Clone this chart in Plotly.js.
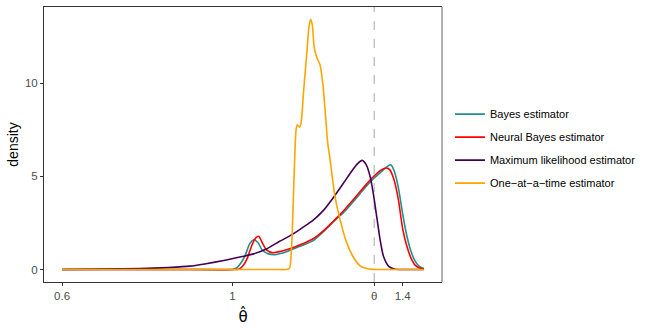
<!DOCTYPE html>
<html>
<head>
<meta charset="utf-8">
<script src="https://cdn.plot.ly/plotly-3.0.1.min.js"></script>
<style>
  html, body { margin: 0; padding: 0; background: #fff; }
  #chart { width: 664px; height: 332px; }
</style>
</head>
<body>
<div id="chart"></div>
<script>
// true parameter value (dashed line)
let theta = 1.3333;

let bayesX = [0.6, 0.9, 1.0, 1.01, 1.02, 1.03, 1.04, 1.05, 1.06, 1.07, 1.085, 1.1, 1.12, 1.14, 1.165, 1.19, 1.215, 1.24, 1.265, 1.29, 1.31, 1.33, 1.35, 1.362, 1.372, 1.38, 1.39, 1.4, 1.41, 1.42, 1.43, 1.44, 1.45];
let bayesY = [0, 0, 0, 0.08, 0.35, 0.75, 1.35, 1.6, 1.45, 1.05, 0.84, 0.8, 0.9, 1.08, 1.3, 1.55, 2.05, 2.62, 3.15, 3.8, 4.35, 4.85, 5.25, 5.5, 5.62, 5.3, 4.4, 3.0, 1.8, 0.95, 0.42, 0.15, 0.05];

let neuralX = [0.6, 0.9, 1.0, 1.015, 1.025, 1.035, 1.045, 1.055, 1.062, 1.07, 1.08, 1.095, 1.115, 1.14, 1.165, 1.19, 1.215, 1.24, 1.265, 1.29, 1.31, 1.33, 1.35, 1.362, 1.37, 1.38, 1.39, 1.4, 1.41, 1.42, 1.43, 1.44, 1.45];
let neuralY = [0, 0, 0, 0.02, 0.2, 0.6, 1.25, 1.7, 1.78, 1.45, 1.05, 0.9, 0.98, 1.15, 1.38, 1.65, 2.1, 2.65, 3.25, 3.9, 4.45, 4.95, 5.35, 5.45, 5.35, 4.8, 3.75, 2.2, 1.25, 0.6, 0.22, 0.08, 0.03];

let mleX = [0.6, 0.7, 0.783, 0.85, 0.9, 0.935, 0.983, 1.026, 1.05, 1.08, 1.11, 1.14, 1.165, 1.19, 1.215, 1.237, 1.26, 1.284, 1.295, 1.305, 1.315, 1.3235, 1.331, 1.339, 1.347, 1.355, 1.367, 1.38, 1.4, 1.45];
let mleY = [0, 0.02, 0.05, 0.11, 0.18, 0.3, 0.5, 0.71, 0.84, 1.1, 1.5, 1.87, 2.25, 2.65, 3.2, 3.85, 4.6, 5.4, 5.7, 5.86, 5.6, 5.0, 4.1, 2.86, 1.61, 0.71, 0.18, 0.03, 0, 0];

let oneX = [0.6, 1.0, 1.1, 1.125, 1.134, 1.1396, 1.145, 1.1497, 1.1528, 1.1575, 1.1615, 1.167, 1.1748, 1.18, 1.184, 1.188, 1.192, 1.198, 1.206, 1.2124, 1.2178, 1.224, 1.2296, 1.241, 1.253, 1.2688, 1.284, 1.3, 1.315, 1.33, 1.4, 1.45];
let oneY = [0, 0, 0, 0, 0.05, 1.43, 5.0, 7.5, 7.77, 7.64, 7.86, 9.46, 11.6, 13.03, 13.43, 13.1, 11.96, 11.4, 10.98, 10.0, 8.57, 6.79, 5.9, 3.93, 2.68, 1.43, 0.67, 0.2, 0.06, 0.01, 0, 0];

let names = ["Bayes estimator", "Neural Bayes estimator", "Maximum likelihood estimator", "One\u2212at\u2212a\u2212time estimator"];
let colors = ["#21908C", "#FF0000", "#440154", "#FFA500"];

let xs = [bayesX, neuralX, mleX, oneX];
let ys = [bayesY, neuralY, mleY, oneY];

let data = [];
for (let i = 0; i < names.length; i++) {
    data.push({
        x: xs[i],
        y: ys[i],
        name: names[i],
        legendgroup: "g" + i,
        type: "scatter",
        mode: "lines",
        line: {color: colors[i], width: 1.6, shape: "spline", smoothing: 0.6}
    });
}

let tickFont = {family: "Liberation Sans, Arial, sans-serif", size: 11.5, color: "#4d4d4d"};

let layout = {
    width: 664,
    height: 332,
    margin: {l: 44, r: 222, t: 7, b: 50},
    plot_bgcolor: "#fff",
    paper_bgcolor: "#fff",
    font: {family: "Liberation Sans, Arial, sans-serif", size: 11.5, color: "#4d4d4d"},
    showlegend: true,
    legend: {
        x: 1.02, xanchor: "left",
        y: 0.485, yanchor: "middle",
        traceorder: "grouped",
        tracegroupgap: 4,
        font: {size: 11, color: "#000"}
    },
    xaxis: {
        range: [0.5575, 1.4925],
        tickvals: [0.6, 1, theta, 1.4],
        ticktext: ["0.6", "1", "\u03b8", "1.4"],
        tickfont: tickFont,
        showgrid: false, zeroline: false,
        showline: true, mirror: true, linecolor: "#333", linewidth: 1,
        ticks: "outside", ticklen: 3, tickcolor: "#333",
        // theta-hat, combining circumflex
        title: {text: "\u03b8\u0302", font: {family: "DejaVu Sans", size: 15, color: "#000"}, standoff: 10}
    },
    yaxis: {
        range: [-0.67, 14.09],
        tickvals: [0, 5, 10],
        tickfont: tickFont,
        showgrid: false, zeroline: false,
        showline: true, linecolor: "#333", linewidth: 1,
        ticks: "outside", ticklen: 3, tickcolor: "#333",
        title: {text: "density", font: {size: 14, color: "#000"}, standoff: 3}
    },
    shapes: [
        {type: "line", xref: "x", yref: "paper", x0: theta, x1: theta, y0: 0, y1: 1,
         line: {color: "#bdbdbd", width: 1.3, dash: "dash"}, layer: "below"},
        {type: "line", xref: "paper", yref: "paper", x0: 1, x1: 1, y0: 0, y1: 1,
         line: {color: "#999", width: 1.5}}
    ]
};

Plotly.newPlot("chart", data, layout, {displayModeBar: false, staticPlot: true});
</script>
</body>
</html>
